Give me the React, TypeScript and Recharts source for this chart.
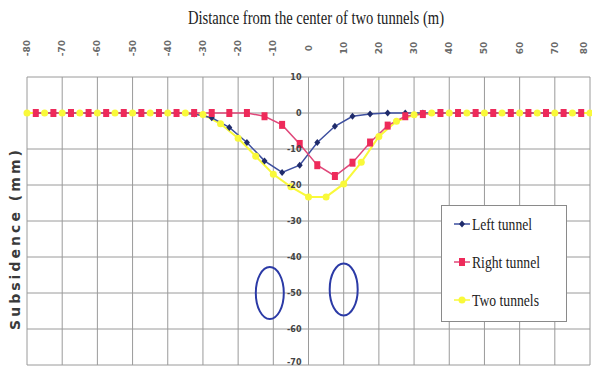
import React from "react";
import { LineChart, Line, XAxis, YAxis, CartesianGrid, ReferenceDot } from "recharts";

const distanceTicks = [-80, -70, -60, -50, -40, -30, -20, -10, 0, 10, 20, 30, 40, 50, 60, 70, 80];
const subsidenceTicks = [10, 0, -10, -20, -30, -40, -50, -60, -70];

// two tunnels measured every 5 m
const twoTunnelX = [
  -80, -75, -70, -65, -60, -55, -50, -45, -40, -35, -30, -25, -20, -15, -10, -5, 0,
  5, 10, 15, 20, 25, 30, 35, 40, 45, 50, 55, 60, 65, 70, 75, 80,
];
const twoTunnelsMm = [
  0, 0, 0, 0, 0, 0, 0, 0, 0, 0, -0.4, -3, -7, -12, -17, -20.5, -23.3,
  -23.3, -19.7, -13.7, -6.5, -2.3, -0.5, 0, 0, 0, 0, 0, 0, 0, 0, 0, 0,
];

// single tunnels, shifted half a step
const singleTunnelX = [
  -77.5, -72.5, -67.5, -62.5, -57.5, -52.5, -47.5, -42.5, -37.5, -32.5, -27.5, -22.5, -17.5, -12.5, -7.5, -2.5,
  2.5, 7.5, 12.5, 17.5, 22.5, 27.5, 32.5, 37.5, 42.5, 47.5, 52.5, 57.5, 62.5, 67.5, 72.5, 77.5,
];
const leftTunnelMm = [
  0, 0, 0, 0, 0, 0, 0, 0, 0, -0.3, -1.3, -4, -8.2, -13.3, -16.5, -14.5,
  -8.2, -3.7, -0.9, -0.3, 0, 0, 0, 0, 0, 0, 0, 0, 0, 0, 0, 0,
];
const rightTunnelMm = [
  0, 0, 0, 0, 0, 0, 0, 0, 0, 0, 0, 0, 0, -0.9, -3.3, -8.6,
  -14.5, -17.5, -13.8, -8.2, -3.5, -0.9, -0.3, 0, 0, 0, 0, 0, 0, 0, 0, 0,
];

const tunnelCenters = [
  { x: -11, y: -50 },
  { x: 10, y: -49 },
];

const twoData = twoTunnelX.map((x, i) => ({ x, v: twoTunnelsMm[i] }));
const leftData = singleTunnelX.map((x, i) => ({ x, v: leftTunnelMm[i] }));
const rightData = singleTunnelX.map((x, i) => ({ x, v: rightTunnelMm[i] }));

const ZERO_X = 308.5;

const TopTick = ({ x, payload }: any) => (
  <text
    x={x}
    y={48}
    transform={`rotate(-90 ${x} 48)`}
    textAnchor="middle"
    dominantBaseline="central"
    fontSize={9}
    fontWeight="bold"
    fontFamily="DejaVu Sans"
    fill="#6a6a6a"
  >
    {payload.value}
  </text>
);

const MidTick = ({ y, payload }: any) => (
  <text
    x={ZERO_X - 7}
    y={y}
    textAnchor="end"
    dominantBaseline="central"
    fontSize={8}
    fontWeight="bold"
    fontFamily="DejaVu Sans"
    fill="#444"
  >
    {payload.value}
  </text>
);

const diamond = (props: any) => {
  const { cx, cy, index } = props;
  return (
    <polygon
      key={`d${index}`}
      points={`${cx},${cy - 3.5} ${cx + 3},${cy} ${cx},${cy + 3.5} ${cx - 3},${cy}`}
      fill="#1f2b6b"
    />
  );
};

const square = (props: any) => {
  const { cx, cy, index } = props;
  return <rect key={`s${index}`} x={cx - 3} y={cy - 4} width={6} height={8} fill="#ee2a5a" />;
};

const circle = (props: any) => {
  const { cx, cy, index } = props;
  return <circle key={`c${index}`} cx={cx} cy={cy} r={3.5} fill="#f9f93a" />;
};

const tunnelShape = (props: any) => (
  <ellipse cx={props.cx} cy={props.cy} rx={14} ry={26} fill="none" stroke="#2b3aa6" strokeWidth={2} />
);

const LegendBox = () => {
  const rows = [
    { name: "Left tunnel", len: 60, color: "#3d4f9f", mark: "d" },
    { name: "Right tunnel", len: 68, color: "#e0487a", mark: "s" },
    { name: "Two tunnels", len: 67, color: "#f9f93a", mark: "c" },
  ];
  return (
    <svg width={126} height={117} style={{ position: "absolute", left: 441, top: 205 }}>
      <rect x={0.5} y={0.5} width={125} height={116} fill="#fff" stroke="#8a8a8a" />
      {rows.map((r, i) => {
        const cy = 19 + 38 * i;
        return (
          <g key={r.name}>
            <line x1={13} x2={29} y1={cy} y2={cy} stroke={r.color} strokeWidth={1.5} />
            {r.mark === "d" && diamond({ cx: 21, cy, index: 0 })}
            {r.mark === "s" && square({ cx: 21, cy, index: 0 })}
            {r.mark === "c" && circle({ cx: 21, cy, index: 0 })}
            <text
              x={31}
              y={cy}
              dominantBaseline="central"
              fontSize={17}
              fontFamily="Liberation Serif"
              fill="#222"
              textLength={r.len}
              lengthAdjust="spacingAndGlyphs"
            >
              {r.name}
            </text>
          </g>
        );
      })}
    </svg>
  );
};

export default function App() {
  return (
    <div style={{ position: "absolute", left: 0, top: 0, width: 592, height: 371, background: "#fff" }}>
      <LineChart width={592} height={371} data={twoData} margin={{ top: 37, right: 2, bottom: 6, left: 26 }}>
        <CartesianGrid stroke="#9a9a9a" strokeWidth={1} />
        <XAxis
          dataKey="x"
          type="number"
          orientation="top"
          height={40}
          domain={[-80, 80]}
          ticks={distanceTicks}
          axisLine={false}
          tickLine={false}
          tick={<TopTick />}
          allowDuplicatedCategory={false}
        />
        <YAxis
          type="number"
          width={1}
          domain={[-70, 10]}
          ticks={subsidenceTicks}
          axisLine={false}
          tickLine={false}
          tick={<MidTick />}
        />
        {tunnelCenters.map((c, i) => (
          <ReferenceDot key={i} x={c.x} y={c.y} r={14} shape={tunnelShape} />
        ))}
        <Line
          data={twoData}
          dataKey="v"
          name="Two tunnels"
          stroke="#f9f93a"
          strokeWidth={2}
          dot={circle}
          activeDot={false}
          isAnimationActive={false}
        />
        <Line
          data={leftData}
          dataKey="v"
          name="Left tunnel"
          stroke="#3d4f9f"
          strokeWidth={1.5}
          dot={diamond}
          activeDot={false}
          isAnimationActive={false}
        />
        <Line
          data={rightData}
          dataKey="v"
          name="Right tunnel"
          stroke="#e0487a"
          strokeWidth={1.5}
          dot={square}
          activeDot={false}
          isAnimationActive={false}
        />
      </LineChart>
      <LegendBox />
      <svg width={592} height={371} style={{ position: "absolute", left: 0, top: 0, pointerEvents: "none" }}>
        <text
          x={188}
          y={24}
          fontSize={18}
          fontFamily="Liberation Serif"
          fill="#222"
          textLength={256}
          lengthAdjust="spacingAndGlyphs"
        >
          Distance from the center of two tunnels (m)
        </text>
        <text
          x={0}
          y={0}
          transform="translate(20 240) rotate(-90)"
          textAnchor="middle"
          fontSize={14}
          fontWeight="bold"
          fontFamily="DejaVu Sans"
          fill="#3a3a3a"
          textLength={180}
          lengthAdjust="spacing"
        >
          Subsidence (mm)
        </text>
      </svg>
    </div>
  );
}
